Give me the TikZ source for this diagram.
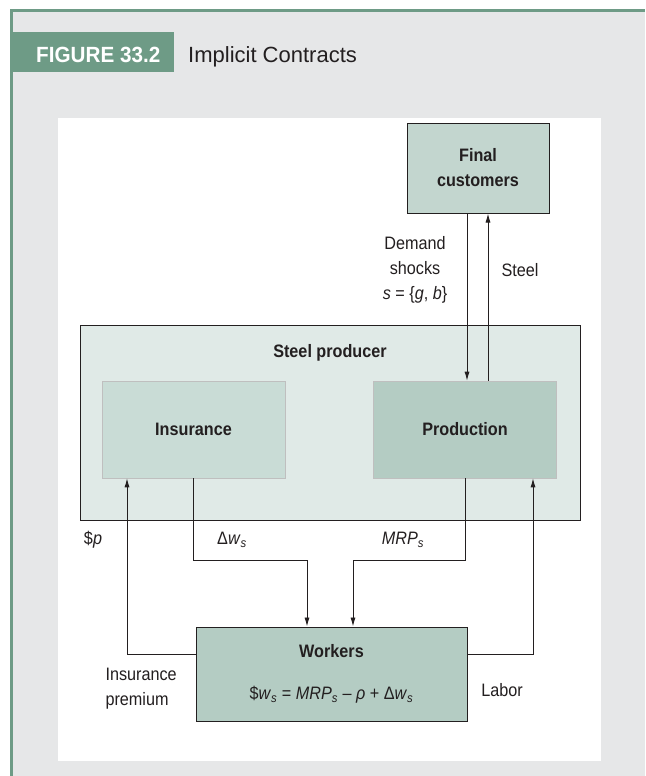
\documentclass[tikz,border=0pt]{standalone}
\usepackage{fontspec}
\setmainfont[FakeStretch=0.9]{Liberation Sans}
\newfontfamily\headfont{Liberation Sans}
\newfontfamily\headboldfont[FakeStretch=0.94]{Liberation Sans Bold}
\usepackage{xcolor}
\usetikzlibrary{arrows.meta,positioning}
\definecolor{panelgray}{HTML}{E6E7E8}
\definecolor{tabgreen}{HTML}{6E9B86}
\definecolor{firmfill}{HTML}{E0EAE7}
\definecolor{insfill}{HTML}{C9DCD6}
\definecolor{prodfill}{HTML}{B4CCC3}
\definecolor{custfill}{HTML}{C3D6CF}
\definecolor{inkgray}{HTML}{231F20}
\newcommand{\ssub}{\textsubscript{\textit{s}}}
\newcommand{\bodysize}{\fontsize{18}{25}\selectfont}

\begin{document}
\begin{tikzpicture}[x=1pt,y=-1pt,>={Latex[length=9pt,width=5pt]},
  font=\bodysize,text=inkgray]
\tikzstyle{darkbox}=[draw=inkgray,line width=1pt,font=\bodysize\bfseries,align=center]
\tikzstyle{lightbox}=[draw=black!25,line width=0.6pt,font=\bodysize\bfseries,align=center,minimum width=183pt,minimum height=97pt]
\tikzstyle{flow}=[draw=inkgray,line width=0.9pt]
% panel and header
\useasboundingbox (0,0) rectangle (645,776);
\fill[white] (0,0) rectangle (645,776);
\fill[panelgray] (10,10) rectangle (645,776);
\draw[tabgreen,line width=3pt] (11.5,776) -- (11.5,11) -- (645,11);
\fill[tabgreen] (10,32) rectangle (174,72);
\node[anchor=base west,inner sep=0,text=white,font=\headboldfont\fontsize{22}{22}\selectfont] (fignum) at (36,63) {FIGURE 33.2};
\node[anchor=base west,inner sep=0,font=\headfont\fontsize{22}{22}\selectfont] (figtitle) at (188,63) {Implicit Contracts};
\fill[white] (58,118) rectangle (601,761);
% boxes
\node[darkbox,fill=firmfill,minimum width=500pt,minimum height=195pt] (producer) at (330,422.5) {};
\node[font=\bodysize\bfseries] (prodlabel) at ([yshift=-28pt]producer.north) {Steel producer};
\node[lightbox,fill=insfill] (insurance) at (193.5,429.5) {Insurance};
\node[lightbox,fill=prodfill] (production) at (465,429.5) {Production};
\node[darkbox,fill=custfill,minimum width=142pt,minimum height=90pt] (customers) at (478,168) {Final\\customers};
\node[darkbox,fill=prodfill,minimum width=271pt,minimum height=94pt] (workers) at (331.5,674)
  {Workers\\[17pt]\mdseries\$\textit{w}\ssub{} = \textit{MRP}\ssub{} – \textit{ρ} + Δ\textit{w}\ssub};
% flows
\draw[flow,->] ([xshift=-11pt]customers.south) -- ([xshift=-11pt]customers.south |- production.north);
\draw[flow,->] ([xshift=10pt]customers.south |- production.north) -- ([xshift=10pt]customers.south);
\draw[flow,->] (insurance.south) -- ++(0,82) -| ([xshift=-24.5pt]workers.north);
\draw[flow,->] (production.south) -- ++(0,82) -| ([xshift=21.5pt]workers.north);
\draw[flow,->] ([yshift=20pt]workers.west) -| ([xshift=-66.5pt]insurance.south);
\draw[flow,->] ([yshift=20pt]workers.east) -| ([xshift=68pt]production.south);
% labels
\node[align=center] (shocks) at (415,270) {Demand\\shocks\\\textit{s} = \{\textit{g}, \textit{b}\}};
\node (steel) at (520,270) {Steel};
\node (dollarp) at (93,540) {\$\textit{p}};
\node (dws) at (232,540) {Δ\textit{w}\ssub};
\node (mrp) at (403,540) {\textit{MRP}\ssub};
\node[align=left,anchor=west] (premium) at (102,689) {Insurance\\premium};
\node (labor) at (502,690) {Labor};
\end{tikzpicture}
\end{document}
